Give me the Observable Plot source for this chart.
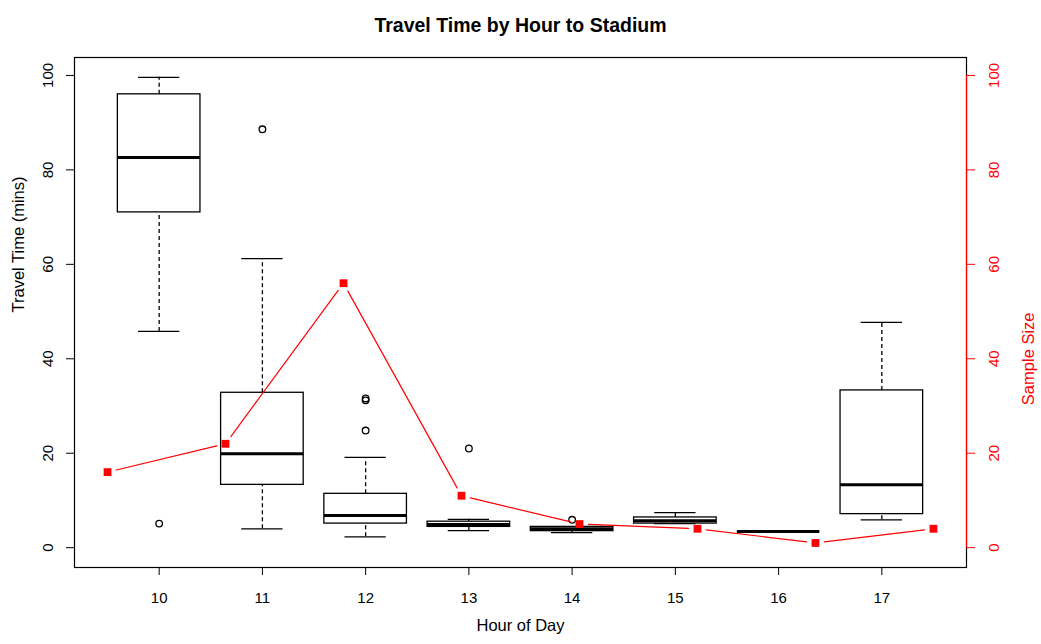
<!DOCTYPE html>
<html><head><meta charset="utf-8">
<script src="https://cdn.jsdelivr.net/npm/d3@7"></script>
<script src="https://cdn.jsdelivr.net/npm/@observablehq/plot@0.6"></script>
<style>body{margin:0;background:#fff}</style>
</head><body><div id="chart"></div>
<script>
const hours = [10, 11, 12, 13, 14, 15, 16, 17];
const whiskerLow = [45.8, 4.0, 2.3, 3.6, 3.2, 5.1, 3.4, 5.9];
const q1 = [71.0, 13.3, 5.1, 4.4, 3.5, 5.1, 3.4, 7.1];
const median = [82.6, 19.9, 6.8, 4.9, 4.0, 5.7, 3.4, 13.3];
const q3 = [96.0, 32.8, 11.4, 5.5, 4.4, 6.4, 3.4, 33.3];
const whiskerHigh = [99.6, 61.2, 19.1, 6.0, 4.4, 7.4, 3.4, 47.7];
const outlierHour = [10, 11, 12, 12, 12, 13, 14];
const outlierValue = [5.1, 88.6, 31.6, 31.2, 24.8, 21.0, 5.9];
const sampleSize = [16, 22, 56, 11, 5, 4, 1, 4];
const yTicks = [0, 20, 40, 60, 80, 100];

const xDomain = [0.18, 8.82];
const boxes = hours.map((h, i) => ({
  i: i + 1, lo: whiskerLow[i], q1: q1[i], med: median[i], q3: q3[i], hi: whiskerHigh[i]
}));
const outliers = outlierHour.map((h, k) => ({ i: hours.indexOf(h) + 1, v: outlierValue[k] }));
// secondary plot used x = 1..8 over its own range; map onto box axis
const sPos = k => 0.5 + k * 8 / (sampleSize.length - 1);
const pts = sampleSize.map((v, k) => ({ x: sPos(k), y: v }));
const segs = sampleSize.slice(1).map((v, k) => ({ x1: sPos(k), y1: sampleSize[k], x2: sPos(k + 1), y2: v }));

const chart = Plot.plot({
  width: 1041, height: 644,
  marginLeft: 74, marginRight: 75, marginTop: 57, marginBottom: 77,
  x: { domain: xDomain },
  y: { domain: [-4.2, 103.8] },
  style: { fontFamily: "'Liberation Sans', Arial, sans-serif", fontSize: "15px", background: "white", color: "black" },
  marks: [
    Plot.ruleX(boxes, { x: "i", y1: "lo", y2: "q1", stroke: "black", strokeWidth: 1.3, strokeDasharray: "4,3" }),
    Plot.ruleX(boxes, { x: "i", y1: "q3", y2: "hi", stroke: "black", strokeWidth: 1.3, strokeDasharray: "4,3" }),
    Plot.ruleY(boxes, { y: "lo", x1: d => d.i - 0.2, x2: d => d.i + 0.2, stroke: "black", strokeWidth: 1.3 }),
    Plot.ruleY(boxes, { y: "hi", x1: d => d.i - 0.2, x2: d => d.i + 0.2, stroke: "black", strokeWidth: 1.3 }),
    Plot.rect(boxes, { x1: d => d.i - 0.4, x2: d => d.i + 0.4, y1: "q1", y2: "q3", fill: "white", stroke: "black", strokeWidth: 1.3 }),
    Plot.ruleY(boxes, { y: "med", x1: d => d.i - 0.4, x2: d => d.i + 0.4, stroke: "black", strokeWidth: 3 }),
    Plot.dot(outliers, { x: "i", y: "v", r: 3.3, stroke: "black", strokeWidth: 1.3, fill: "none" }),
    Plot.arrow(segs, { x1: "x1", y1: "y1", x2: "x2", y2: "y2", stroke: "red", strokeWidth: 1.2, headLength: 0, insetStart: 9, insetEnd: 9, bend: 0 }),
    Plot.dot(pts, { x: "x", y: "y", symbol: "square", r: 4.4, fill: "red", stroke: "none" }),
    Plot.frame({ stroke: "black", strokeWidth: 1.2 }),
    Plot.ruleX([xDomain[1]], { x: d => d, y1: yTicks[0], y2: yTicks[yTicks.length - 1], stroke: "red", strokeWidth: 1.2 }),
    Plot.axisX({ ticks: hours.map((h, i) => i + 1), tickFormat: v => hours[v - 1], tickSize: 8, tickPadding: 17, label: null, fontSize: 15 }),
    Plot.axisY({ anchor: "left", ticks: yTicks, tickSize: 8, tickRotate: -90, tickPadding: 14, label: null, fontSize: 15 }),
    Plot.axisY({ anchor: "right", ticks: yTicks, tickSize: 8, tickRotate: -90, lineAnchor: "top", tickPadding: 14, label: null, fontSize: 15, color: "red" }),
    Plot.text(["Travel Time by Hour to Stadium"], { text: d => d, frameAnchor: "top", dy: -39, fontWeight: "bold", fontSize: 19.5 }),
    Plot.text(["Hour of Day"], { text: d => d, frameAnchor: "bottom", dy: 63, fontSize: 16.5 }),
    Plot.text(["Travel Time (mins)"], { text: d => d, frameAnchor: "left", dx: -56, rotate: -90, fontSize: 16.5 }),
    Plot.text(["Sample Size"], { text: d => d, frameAnchor: "right", dx: 62, rotate: -90, fontSize: 16.5, fill: "red" })
  ]
});
document.getElementById("chart").appendChild(chart);
</script>
</body></html>
